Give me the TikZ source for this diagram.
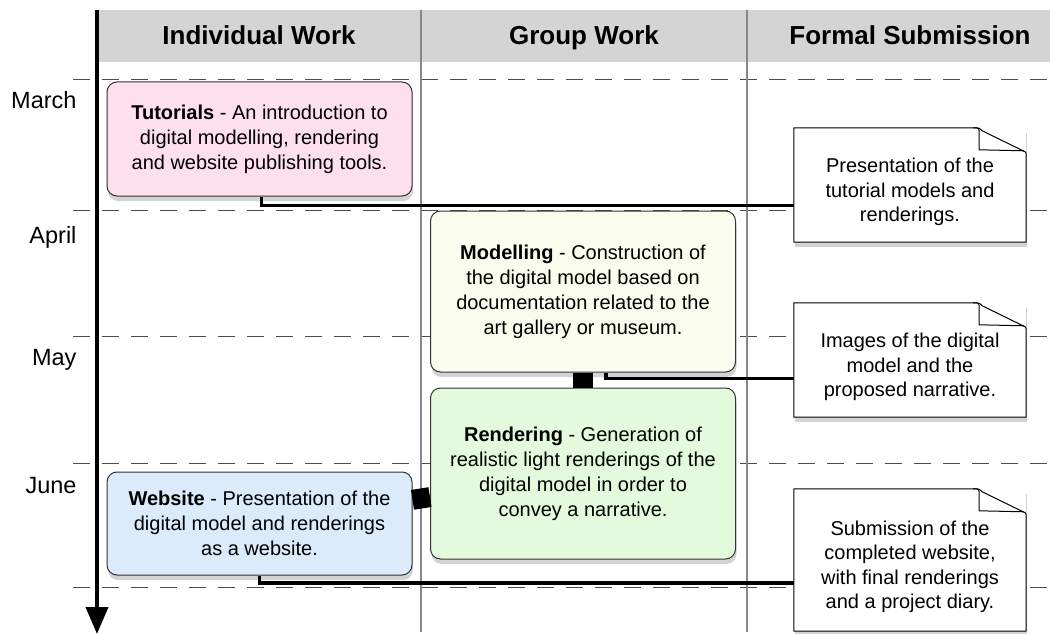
\documentclass[tikz,border=0pt]{standalone}
\usepackage{fontspec}
\setmainfont{Liberation Sans}
\usetikzlibrary{calc}
\usetikzlibrary{positioning}
\usetikzlibrary{arrows.meta}
\usetikzlibrary{shadows}
\usetikzlibrary{backgrounds}

\definecolor{headgray}{RGB}{212,212,212}
\definecolor{tutpink}{RGB}{253,223,238}
\definecolor{modyellow}{RGB}{250,252,237}
\definecolor{rendgreen}{RGB}{228,250,220}
\definecolor{webblue}{RGB}{220,235,251}
\definecolor{gridgray}{RGB}{136,136,136}

\begin{document}
\begin{tikzpicture}[x=1pt, y=-1pt,
    taskbox/.style={draw=black!80, line width=1pt, rounded corners=10pt, align=center,
      inner sep=0pt, minimum width=305, font=\fontsize{20}{25}\selectfont,
      drop shadow={shadow xshift=1pt, shadow yshift=-5pt, opacity=0.35}},
    notebox/.style={fill=white, inner sep=0pt, minimum width=232,
      drop shadow={shadow xshift=1pt, shadow yshift=-5pt, opacity=0.35}},
    notetext/.style={align=center, inner sep=0pt, font=\fontsize{20}{24.5}\selectfont},
    noteline/.style={draw=black, line width=1pt, line join=round},
    headtext/.style={anchor=base, font=\fontsize{26}{30}\selectfont\bfseries},
    month/.style={anchor=base east, font=\fontsize{23.5}{28}\selectfont},
    dashline/.style={draw=black!70, line width=1pt, dash pattern=on 17pt off 12pt},
    divider/.style={draw=gridgray, line width=1.3pt},
    link/.style={draw=black, line width=3.5pt},
    biglink/.style={draw=black, line width=20pt}]
    \useasboundingbox (0,0) rectangle (1050,634);

    \begin{scope}[on background layer]
        \fill[headgray] (97,10) rectangle (1050,62);
        \foreach \y in {80,210.5,336,463,587}
            \draw[dashline] (73,\y) -- (1050,\y);
        \draw[divider] (421,10) -- (421,632);
        \draw[divider] (747,10) -- (747,632);
    \end{scope}

    \node[headtext] (hind) at (259,44.5) {Individual Work};
    \node[headtext] (hgrp) at (584,44.5) {Group Work};
    \node[headtext] (hsub) at (910,44.5) {Formal Submission};

    \node[month] (mmar) at (80,109) {March};
    \node[month] (mapr) at (80,243.3) {April};
    \node[month] (mmay) at (80,365.7) {May};
    \node[month] (mjun) at (80,493) {June};

    \draw[line width=4pt, -{Triangle[width=22pt,length=27pt]}] (97,10) -- (97,634);

    \node[taskbox, fill=tutpink, minimum height=114] (tut) at (259.5,139)
        {\textbf{Tutorials} - An introduction to\\digital modelling, rendering\\and website publishing tools.};
    \node[taskbox, fill=modyellow, minimum height=161] (model) at (583,291.5)
        {\textbf{Modelling} - Construction of\\the digital model based on\\documentation related to the\\art gallery or museum.};
    \node[taskbox, fill=rendgreen, minimum height=171, below=15pt of model] (rend)
        {\textbf{Rendering} - Generation of\\realistic light renderings of the\\digital model in order to\\convey a narrative.};
    \node[taskbox, fill=webblue, minimum height=103] (web) at (259.5,523.5)
        {\textbf{Website} - Presentation of the\\digital model and renderings\\as a website.};

    \node[notebox, minimum height=114] (n1) at (910,185) {};
    \node[notebox, minimum height=114] (n2) at (910,360) {};
    \node[notebox, minimum height=142] (n3) at (910,560) {};
    \foreach \n in {n1,n2,n3} {
        \draw[noteline] (\n.south west) -- (\n.north west) -- ($(\n.north east)+(-53,0)$)
            .. controls ($(\n.north east)+(-47,0)$) .. ($(\n.north east)+(-44,3)$)
            -- ($(\n.north east)+(-1,24)$) .. controls ($(\n.north east)+(0,25)$) .. ($(\n.north east)+(0,30)$)
            -- (\n.south east) -- cycle;
        \draw[noteline] ($(\n.north east)+(-53,0)$) .. controls ($(\n.north east)+(-47,0)$) .. ($(\n.north east)+(-47,6)$)
            -- ($(\n.north east)+(-47,22)$) -- ($(\n.north east)+(-2,23)$);
    }
    \node[notetext] (n1t) at ($(n1.center)+(0,7)$) {Presentation of the\\tutorial models and\\renderings.};
    \node[notetext] (n2t) at ($(n2.center)+(0,7)$) {Images of the digital\\model and the\\proposed narrative.};
    \node[notetext] (n3t) at ($(n3.center)+(0,7)$) {Submission of the\\completed website,\\with final renderings\\and a project diary.};

    \draw[biglink] (model) -- (rend);
    \draw[biglink] (web) -- (rend);
    \draw[link] ($(tut.south)+(2,0)$) |- ($(n1.west)+(0,20.5)$);
    \draw[link] ($(model.south)+(23,0)$) |- ($(n2.west)+(0,18.5)$);
    \draw[link] (web.south) |- ($(n3.west)+(0,23)$);
\end{tikzpicture}
\end{document}
